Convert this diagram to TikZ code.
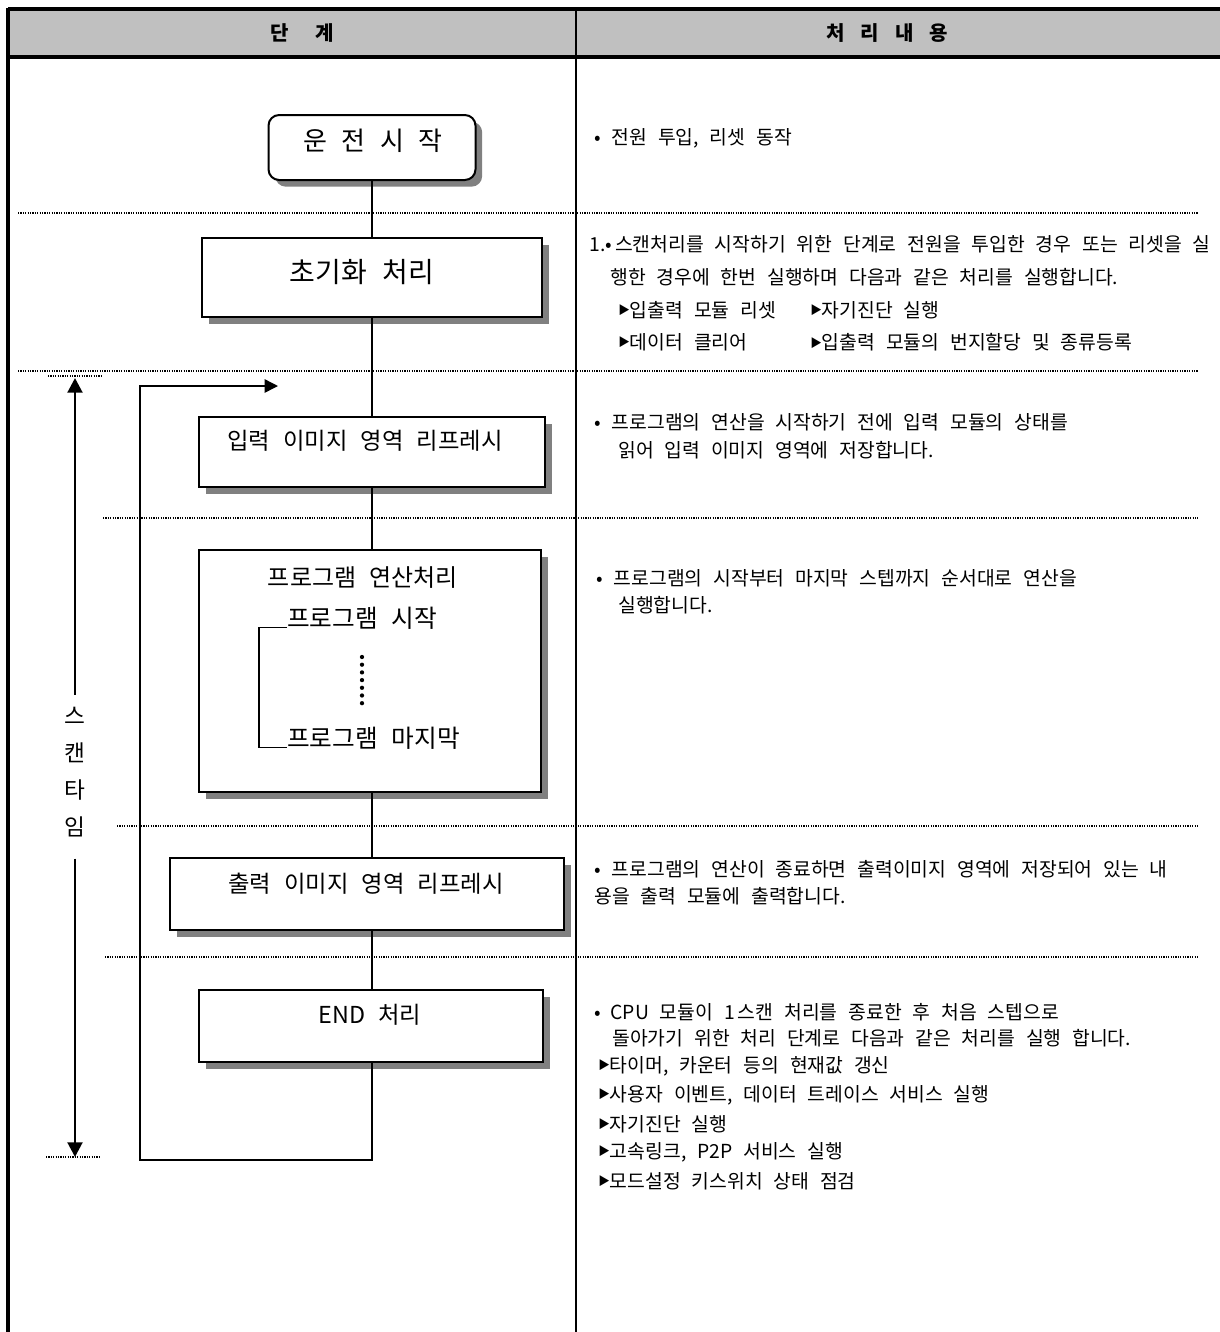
\documentclass[tikz,border=0pt]{standalone}
\usepackage{fontspec}
\setmainfont[WordSpace=2.5]{Noto Sans CJK KR}
\usetikzlibrary{arrows.meta, shadows}
\definecolor{headgray}{HTML}{C0C0C0}
\definecolor{shadowgray}{HTML}{808080}
\newcommand{\tri}{\raisebox{0.12em}{\scalebox{0.6}{▶}}}
\tikzset{
  procbox/.style 2 args={
    draw, line width=1.5pt, fill=white,
    minimum width=#1*0.75pt, minimum height=#2*0.75pt,  % sizes given in px
    drop shadow={shadow xshift=5pt, shadow yshift=-5pt, opacity=1, fill=shadowgray}
  },
  boxtext/.style={inner sep=0pt, font=\fontsize{17.5}{20}\selectfont},
  desctext/.style={anchor=west, inner sep=0pt, font=\fontsize{14.5}{17}\selectfont},
  sepline/.style={line width=0.9pt, dash pattern=on 0.9pt off 0.9pt},
  flowline/.style={line width=1.1pt},
  scanarrow/.style={-{Triangle[length=11pt,width=11pt]}, line width=2.2pt},
}

\begin{document}
\begin{tikzpicture}[x=0.75pt, y=-0.75pt]
    \useasboundingbox (0,0) rectangle (1220,1332);

    % Header and frame
    \fill[headgray] (8,9) rectangle (1220,57);
    \draw[line width=2.3pt] (8,9) -- (1220,9) (8,57) -- (1220,57);
    \draw[line width=2.3pt] (8,8) -- (8,1332);
    \draw[line width=1.1pt] (576,9) -- (576,1332);
    \node[font=\fontsize{15}{17}\selectfont\bfseries] (hstep) at (302,33) {단\hspace{1.3em}계};
    \node[font=\fontsize{15}{17}\selectfont\bfseries] (hwork) at (887,33) {처\hspace{0.8em}리\hspace{0.8em}내\hspace{0.8em}용};

    % Dotted separators
    \foreach \y/\xa in {213/18, 371/18, 518/103, 826/117, 957/105}
        \draw[sepline] (\xa,\y) -- (1198,\y);
    \draw[sepline] (48,376) -- (103,376);
    \draw[sepline] (46,1157) -- (101,1157);

    % Flow boxes
    \node[procbox={207}{65}, rounded corners=8pt] (start) at (372,147.5) {};
    \node[procbox={340}{79}] (init) at (372,277.5) {};
    \node[procbox={346}{70}] (inref) at (372,452) {};
    \node[procbox={342}{242}] (prog) at (370,671) {};
    \node[procbox={394}{72}] (outref) at (367,894) {};
    \node[procbox={344}{72}] (endp) at (371,1026) {};

    \node[boxtext, font=\fontsize{19.5}{22}\selectfont] (startlbl) at (373,141) {운 전 시 작};
    \node[boxtext, font=\fontsize{21}{23}\selectfont] (initlbl) at (362,272) {초기화 처리};
    \node[boxtext] (inreflbl) at (365,441) {입력 이미지 영역 리프레시};
    \node[boxtext, font=\fontsize{18}{20}\selectfont] (progttl) at (363,578) {프로그램 연산처리};
    \node[boxtext, font=\fontsize{18.5}{20}\selectfont, anchor=west] (pstart) at (287,618) {프로그램 시작};
    \node[boxtext, font=\fontsize{18.5}{20}\selectfont, anchor=west] (pend) at (287,738) {프로그램 마지막};
    \node[boxtext] (outreflbl) at (366,884) {출력 이미지 영역 리프레시};
    \node[boxtext] (endlbl) at (370,1015) {END 처리};

    % Program range bracket and dots
    \draw[flowline] (pstart.base west) -- ++(-28,0) |- (pend.base west);
    \foreach \k in {0,...,6}
        \fill (362,{657+\k*7.7}) circle[radius=1.6pt];

    % Connectors
    \draw[flowline] (start.south) -- (start.south |- init.north);
    \draw[flowline] (init.south) -- (init.south |- inref.north);
    \draw[flowline] (inref.south) -- (inref.south |- prog.north);
    \draw[flowline] (inref.south |- prog.south) -- (inref.south |- outref.north);
    \draw[flowline] (inref.south |- outref.south) -- (inref.south |- endp.north);

    % Return loop
    \coordinate (loopbl) at (140,1160);
    \coordinate (looptip) at (278,386);
    \draw[flowline, -{Triangle[length=10pt,width=10pt]}] (inref.south |- endp.south) |- (loopbl) |- (looptip);

    % Scan time
    \node[align=center, inner sep=0pt, font=\fontsize{17}{27.75}\selectfont] (scan) at (75,772) {스\\캔\\타\\임};
    \coordinate (scantop) at (75,378);
    \coordinate (scanbot) at (75,1157);
    \draw[scanarrow, shorten <=9pt] (scan.north) -- (scantop);
    \draw[scanarrow, shorten <=16pt] (scan.south) -- (scanbot);

    % Descriptions
    \node[desctext] (d1) at (594,138) {• 전원 투입, 리셋 동작};
    \node[desctext] (d2a) at (589,244) {1.•\,스캔처리를 시작하기 위한 단계로 전원을 투입한 경우 또는 리셋을 실};
    \node[desctext] (d2b) at (610,277) {행한 경우에 한번 실행하며 다음과 같은 처리를 실행합니다.};
    \node[desctext] (d2c) at (618,310) {\tri 입출력 모듈 리셋};
    \node[desctext] (d2d) at (810,310) {\tri 자기진단 실행};
    \node[desctext] (d2e) at (618,342) {\tri 데이터 클리어};
    \node[desctext] (d2f) at (810,342) {\tri 입출력 모듈의 번지할당 및 종류등록};
    \node[desctext] (d3a) at (594,422) {• 프로그램의 연산을 시작하기 전에 입력 모듈의 상태를};
    \node[desctext] (d3b) at (618,450) {읽어 입력 이미지 영역에 저장합니다.};
    \node[desctext] (d4a) at (596,578) {• 프로그램의 시작부터 마지막 스텝까지 순서대로 연산을};
    \node[desctext] (d4b) at (618,605) {실행합니다.};
    \node[desctext] (d5a) at (594,869) {• 프로그램의 연산이 종료하면 출력이미지 영역에 저장되어 있는 내};
    \node[desctext] (d5b) at (594,896) {용을 출력 모듈에 출력합니다.};
    \node[desctext] (d6a) at (594,1012) {•\enspace CPU 모듈이 1\,스캔 처리를 종료한 후 처음 스텝으로};
    \node[desctext] (d6b) at (612,1038) {돌아가기 위한 처리 단계로 다음과 같은 처리를 실행 합니다.};
    \foreach \y/\t [count=\i] in {1066/{타이머, 카운터 등의 현재값 갱신},
                                 1095/{사용자 이벤트, 데이터 트레이스 서비스 실행},
                                 1124/{자기진단 실행},
                                 1152/{고속링크, P2P 서비스 실행},
                                 1181/{모드설정 키스위치 상태 점검}}
        \node[desctext] (d6list\i) at (598,\y) {\tri\t};
\end{tikzpicture}
\end{document}
